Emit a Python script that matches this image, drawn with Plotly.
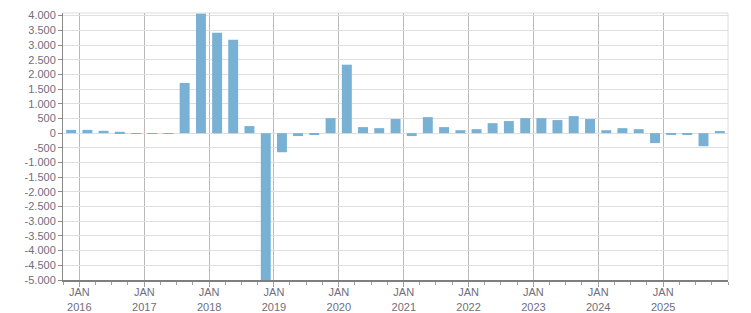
import plotly.graph_objects as go

# Quarter start dates (bars centred in each quarter)
quarters = [
    "2015-10-01",
    "2016-01-01", "2016-04-01", "2016-07-01", "2016-10-01",
    "2017-01-01", "2017-04-01", "2017-07-01", "2017-10-01",
    "2018-01-01", "2018-04-01", "2018-07-01", "2018-10-01",
    "2019-01-01", "2019-04-01", "2019-07-01", "2019-10-01",
    "2020-01-01", "2020-04-01", "2020-07-01", "2020-10-01",
    "2021-01-01", "2021-04-01", "2021-07-01", "2021-10-01",
    "2022-01-01", "2022-04-01", "2022-07-01", "2022-10-01",
    "2023-01-01", "2023-04-01", "2023-07-01", "2023-10-01",
    "2024-01-01", "2024-04-01", "2024-07-01", "2024-10-01",
    "2025-01-01", "2025-04-01", "2025-07-01", "2025-10-01",
]
values = [
    110,
    110, 80, 45, -15,
    -15, -10, 1710, 4070,
    3420, 3180, 240, -5100,
    -650, -100, -30, 510,
    2330, 205, 170, 480,
    -100, 545, 205, 100,
    135, 340, 410, 510,
    510, 445, 580, 480,
    100, 170, 135, -340,
    -30, -30, -445, 70,
]

x_tick_years = list(range(2016, 2026))
x_tick_vals = [f"{y}-01-01" for y in x_tick_years]
x_tick_text = [f"JAN<br>{y}" for y in x_tick_years]

y_tick_vals = list(range(-5000, 4001, 500))
y_tick_text = [f"{v:,}".replace(",", ".") for v in y_tick_vals]

BAR_COLOR = "#78b1d3"
TEXT_COLOR = "#6e6e7e"
DAY_MS = 86400000

fig = go.Figure()
fig.add_trace(go.Bar(
    x=quarters,
    y=values,
    xperiod="M3",
    xperiodalignment="middle",
    width=56 * DAY_MS,
    marker=dict(color=BAR_COLOR, line=dict(width=0)),
    hoverinfo="skip",
))

fig.update_layout(
    width=751,
    height=313,
    margin=dict(l=63, r=23, t=13, b=33, autoexpand=False),
    paper_bgcolor="white",
    plot_bgcolor="white",
    showlegend=False,
    font=dict(family="Liberation Sans, Arial, sans-serif", size=11, color=TEXT_COLOR),
    xaxis=dict(
        type="date",
        range=["2015-10-01", "2026-01-01"],
        tickmode="array",
        tickvals=x_tick_vals,
        ticktext=x_tick_text,
        showgrid=True,
        gridcolor="#b9b9b9",
        gridwidth=1,
        showline=True,
        linecolor="#7f7f7f",
        linewidth=2,
        ticks="outside",
        ticklen=5,
        tickcolor="#a0a0a0",
        ticklabelstandoff=-4,
        tickfont=dict(size=11, color=TEXT_COLOR),
        minor=dict(ticks="outside", ticklen=3, dtick="M3", tick0="2016-01-01",
                   tickcolor="#a0a0a0", showgrid=False),
        zeroline=False,
        automargin=False,
        fixedrange=True,
    ),
    yaxis=dict(
        range=[-5000, 4090],
        tickmode="array",
        tickvals=y_tick_vals,
        ticktext=y_tick_text,
        showgrid=True,
        gridcolor="#dfdfdf",
        gridwidth=1,
        showline=True,
        linecolor="#8a8a8a",
        linewidth=1,
        ticks="outside",
        ticklen=4,
        tickcolor="#8a8a8a",
        tickfont=dict(size=11, color=TEXT_COLOR),
        zeroline=False,
        automargin=False,
        fixedrange=True,
    ),
    shapes=[
        dict(type="line", xref="paper", yref="paper", x0=0, x1=1, y0=1, y1=1,
             line=dict(color="#dcdcdc", width=1)),
        dict(type="line", xref="paper", yref="paper", x0=1, x1=1, y0=0, y1=1,
             line=dict(color="#dcdcdc", width=1)),
    ],
)

fig.write_html("out.html")
